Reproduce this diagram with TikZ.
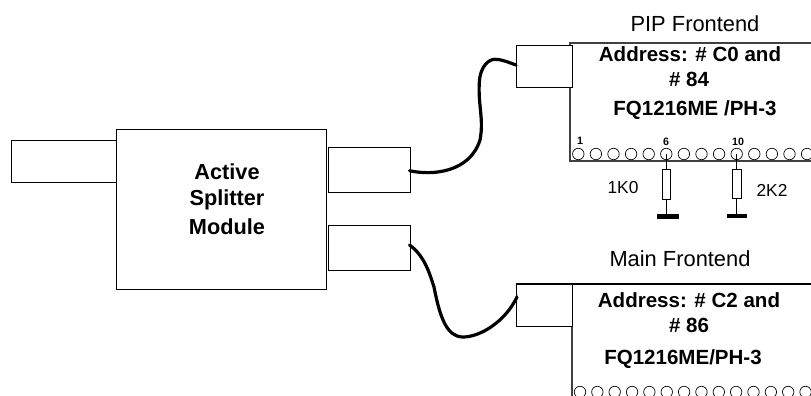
\documentclass[tikz,border=0pt]{standalone}
\usepackage{fontspec}
\setmainfont{Liberation Sans}
\tikzset{
  px/.style={x=0.75pt,y=-0.75pt},
  box/.style={draw=black,line width=0.75pt,fill=white,inner sep=0pt,outer sep=0pt,anchor=north west},
  cable/.style={draw=black,line width=2.4pt,line cap=round},
  plain/.style={font=\fontsize{16.4pt}{18pt}\selectfont,inner sep=0pt},
  strong/.style={font=\fontsize{15.4pt}{18pt}\selectfont\bfseries,inner sep=0pt},
  heavy/.style={font=\fontsize{16.3pt}{18pt}\selectfont\bfseries,inner sep=0pt},
  value/.style={font=\fontsize{13pt}{14pt}\selectfont,inner sep=0pt},
  pinnum/.style={font=\fontsize{8pt}{9pt}\selectfont\bfseries,inner sep=0pt},
  pin/.style={circle,draw=black,line width=0.5pt,minimum size=8.6pt,inner sep=0pt},
  res/.style={draw=black,line width=0.6pt,fill=white,minimum width=6.5pt,minimum height=22pt,inner sep=0pt},
  gnd/.style={fill=black,draw=none,minimum width=16pt,minimum height=3.2pt,inner sep=0pt}
}
\begin{document}
\begin{tikzpicture}[px]
\useasboundingbox (0,0) rectangle (811,396);
\clip (0,0) rectangle (811,396);
% first frontend
\draw[line width=0.8pt,black!75] (811,43) -- (570,43) -- (570,161) -- (811,161);
\foreach \i in {0,...,13}{
  \node[pin] (pa\i) at ({578.3+17.6*\i},154) {};
  \node[pin] (pb\i) at ({580+17.35*\i},392) {};
}
% second frontend
\draw[line width=0.8pt] (811,284) -- (516,284);
\draw[line width=0.8pt,black!75] (572,284) -- (572,396);
% splitter
\node[box,minimum width=79pt,minimum height=31.5pt] (inp) at (11.5,140.5) {};
\node[box,minimum width=157.5pt,minimum height=120pt] (split) at (116.5,129) {};
\node[box,minimum width=61.5pt,minimum height=34pt] (outa) at (328,147.5) {};
\node[box,minimum width=61.5pt,minimum height=34pt] (outb) at (328,225) {};
\node[box,minimum width=42pt,minimum height=31.5pt] (tuna) at (516,45) {};
\node[box,minimum width=42pt,minimum height=31.5pt] (tunb) at (516,284) {};
\coordinate (ca) at (409.5,170.7);
\coordinate (cb) at (516,65);
\coordinate (cc) at (409.5,245);
\coordinate (cd) at (517,297);
\draw[cable] (ca) .. controls (433,176) and (470,172) .. (480,140)
  .. controls (484,120) and (478,105) .. (479.3,83)
  .. controls (480,65) and (490,59) .. (495,59.3)
  .. controls (503,59.5) and (510,63) .. (cb);
\draw[cable] (cc) .. controls (425,256) and (430,275) .. (434,287)
  .. controls (440,318) and (447,337) .. (463,337)
  .. controls (480,337) and (505,322) .. (cd);
% labels
\node[heavy] (t1) at (227,171.5) {Active};
\node[heavy] (t2) at (227,199.5) {Splitter};
\node[heavy] (t3) at (227,226.5) {Module};
\node[plain] (l1) at (695,24) {PIP Frontend};
\node[strong] (l2) at (690,54) {Address: \# C0 and};
\node[strong] (l3) at (689,79) {\# 84};
\node[strong] (l4) at (695,110) {FQ1216ME /PH-3};
\node[plain] (l5) at (680,259) {Main Frontend};
\node[strong] (l6) at (689,300) {Address: \# C2 and};
\node[strong] (l7) at (689,325) {\# 86};
\node[strong] (l8) at (683,359) {FQ1216ME/PH-3};
\node[pinnum] (n1) at (580,141) {1};
\node[pinnum] (n6) at (666,142) {6};
\node[pinnum] (n10) at (738,142) {10};
% resistors
\node[gnd] (g1) at (668,216.5) {};
\node[gnd,minimum width=15pt] (g2) at (737,216) {};
\draw[line width=0.7pt] (pa5.center) -- (g1.north -| pa5);
\draw[line width=0.7pt] (pa9.center) -- (g2.north -| pa9);
\node[res] (r1) at (pa5 |- 0,184.5) {};
\node[res] (r2) at (pa9 |- 0,184) {};
\node[value] (v1) at (623,188) {1K0};
\node[value] (v2) at (772,190) {2K2};
\end{tikzpicture}
\end{document}
